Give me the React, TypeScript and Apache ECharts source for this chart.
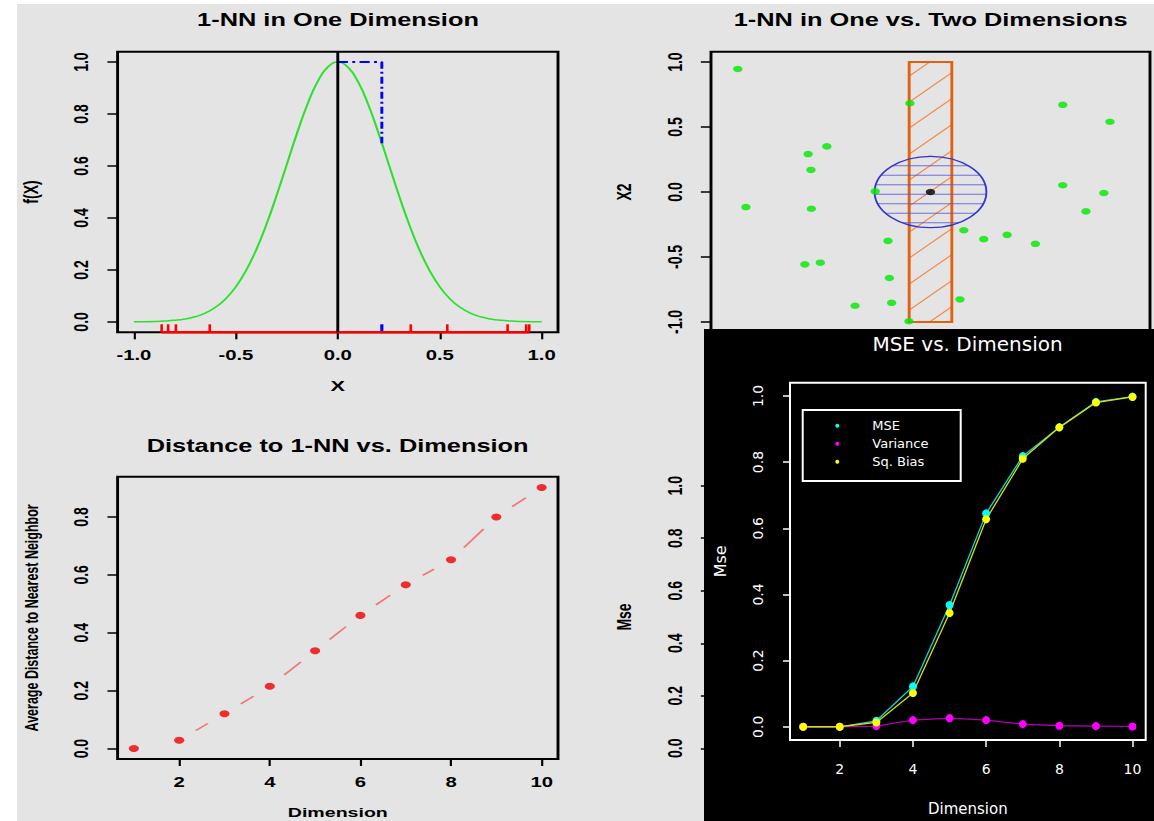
import React, { useEffect, useRef } from "react";
import * as echarts from "echarts";

// ---------------- Panel 1: 1-NN in One Dimension ----------------
const curveX = [-1, -0.95, -0.9, -0.85, -0.8, -0.75, -0.7, -0.65, -0.6, -0.55, -0.5, -0.45, -0.4, -0.35, -0.3, -0.25, -0.2, -0.15, -0.1, -0.05, 0, 0.05, 0.1, 0.15, 0.2, 0.25, 0.3, 0.35, 0.4, 0.45, 0.5, 0.55, 0.6, 0.65, 0.7, 0.75, 0.8, 0.85, 0.9, 0.95, 1];
const curveFx = [0.0003, 0.0007, 0.0015, 0.0031, 0.006, 0.0111, 0.0198, 0.034, 0.0561, 0.0889, 0.1353, 0.1979, 0.278, 0.3753, 0.4868, 0.6065, 0.7261, 0.8353, 0.9231, 0.9802, 1, 0.9802, 0.9231, 0.8353, 0.7261, 0.6065, 0.4868, 0.3753, 0.278, 0.1979, 0.1353, 0.0889, 0.0561, 0.034, 0.0198, 0.0111, 0.006, 0.0031, 0.0015, 0.0007, 0.0003];
const rugRed = [-0.864, -0.832, -0.794, -0.628, 0.358, 0.537, 0.833, 0.924, 0.939];
const rugBlue = [0.216];
const targetX = 0;
const targetFx = 1.0;
const nnX = 0.216;
const nnFx = 0.688;
const p1XTicks = [-1, -0.5, 0, 0.5, 1];
const unitTicks = [0, 0.2, 0.4, 0.6, 0.8, 1];

// ---------------- Panel 2: 1-NN in One vs. Two Dimensions ----------------
const pts2X = [-0.948, -0.101, 0.651, 0.883, -0.51, -0.602, -0.588, -0.272, 0.651, 0.853, -0.908, -0.586, 0.765, 0.164, 0.262, 0.377, 0.516, -0.209, -0.618, -0.542, -0.202, -0.371, -0.191, 0.145, -0.106];
const pts2Y = [0.947, 0.683, 0.671, 0.541, 0.351, 0.292, 0.17, 0.005, 0.052, -0.008, -0.116, -0.129, -0.149, -0.294, -0.363, -0.33, -0.399, -0.376, -0.557, -0.544, -0.662, -0.876, -0.853, -0.827, -0.995];
const target2 = [0, 0];
const nnBoxX = [-0.105, 0.105];
const nnBoxY = [-1, 1];
const ballRadius = 0.275;
const p2Ticks = [-1, -0.5, 0, 0.5, 1];

// ---------------- Panel 3: Distance to 1-NN vs. Dimension ----------------
const dims = [1, 2, 3, 4, 5, 6, 7, 8, 9, 10];
const avgDist = [0.0, 0.029, 0.12, 0.215, 0.338, 0.46, 0.566, 0.652, 0.8, 0.902];
const distTicks = [0, 0.2, 0.4, 0.6, 0.8];
const dimTicks = [2, 4, 6, 8, 10];

// ---------------- Panel 4: MSE vs. Dimension ----------------
const mse = [0.0, 0.0, 0.018, 0.122, 0.368, 0.645, 0.818, 0.905, 0.982, 0.998];
const variance = [0.0, 0.0, 0.002, 0.02, 0.026, 0.02, 0.008, 0.003, 0.002, 0.001];
const sqBias = [0.0, 0.0, 0.013, 0.102, 0.344, 0.627, 0.81, 0.905, 0.98, 0.997];

// The light panels are drawn narrow and stretched horizontally, like the reference.
const A_W = 796;
const S = 1154 / A_W;
const ux = (t: number) => t / S;

const Y1MIN = -0.04;

const lightLabel = { color: "#000", fontFamily: "Liberation Sans", fontWeight: "bold", fontSize: 14 };
const lightTick = { show: true, length: 7, lineStyle: { color: "#000", width: 1.5 } };
const noLine = { show: false, onZero: false };
const f1 = (v: number) => v.toFixed(1);

function renderRug(color: string, width: number) {
  return (params: any, api: any) => {
    const p = api.coord([api.value(0), Y1MIN]);
    return {
      type: "line",
      shape: { x1: p[0], y1: p[1], x2: p[0], y2: p[1] - 8 },
      style: { stroke: color, lineWidth: width },
    };
  };
}

function renderNNBox(params: any, api: any) {
  const tl = api.coord([api.value(0), api.value(3)]);
  const br = api.coord([api.value(2), api.value(1)]);
  const x = tl[0], y = tl[1], w = br[0] - tl[0], h = br[1] - tl[1];
  const children: any[] = [];
  const sp = 26;
  for (let yl = y + 14; yl < y + h + w; yl += sp) {
    const tmin = Math.max(0, (yl - (y + h)) / w);
    const tmax = Math.min(1, (yl - y) / w);
    if (tmax > tmin) {
      children.push({
        type: "line",
        shape: { x1: x + tmin * w, y1: yl - tmin * w, x2: x + tmax * w, y2: yl - tmax * w },
        style: { stroke: "#ee8a50", lineWidth: 1 },
      });
    }
  }
  children.push({ type: "rect", shape: { x, y, width: w, height: h }, style: { fill: "none", stroke: "#e2600e", lineWidth: 2 } });
  return { type: "group", children };
}

function renderBall(params: any, api: any) {
  const cx = api.value(0), cy = api.value(1), r = api.value(2);
  const c = api.coord([cx, cy]);
  const px = api.coord([cx + r, cy]);
  const py = api.coord([cx, cy + r]);
  const rx = px[0] - c[0];
  const ry = c[1] - py[1];
  const children: any[] = [];
  const sp = 9.5;
  for (let k = -10; k <= 10; k++) {
    const dy = 2.3 + k * sp;
    if (Math.abs(dy) >= ry) continue;
    const half = rx * Math.sqrt(1 - (dy / ry) * (dy / ry));
    children.push({
      type: "line",
      shape: { x1: c[0] - half, y1: c[1] + dy, x2: c[0] + half, y2: c[1] + dy },
      style: { stroke: "#5a5ae0", lineWidth: 1, opacity: 0.85 },
    });
  }
  children.push({ type: "ellipse", shape: { cx: c[0], cy: c[1], rx, ry }, style: { fill: "none", stroke: "#3535c8", lineWidth: 1.3 } });
  return { type: "group", children };
}

function renderGapSegment(params: any, api: any) {
  const a = api.coord([api.value(0), api.value(1)]);
  const b = api.coord([api.value(2), api.value(3)]);
  const dx = b[0] - a[0], dy = b[1] - a[1];
  const len = Math.sqrt(dx * dx + dy * dy);
  const gap = 15;
  if (len < 2 * gap + 3) return { type: "group", children: [] };
  const ux2 = dx / len, uy2 = dy / len;
  return {
    type: "line",
    shape: { x1: a[0] + ux2 * gap, y1: a[1] + uy2 * gap, x2: b[0] - ux2 * gap, y2: b[1] - uy2 * gap },
    style: { stroke: "#f07878", lineWidth: 1.5 },
  };
}

function optionA(): any {
  const gridW = ux(558) - ux(117.6);
  const grid2W = ux(1150) - ux(711);
  const boxStyle = { show: true, borderColor: "#000", borderWidth: 2, backgroundColor: "transparent" };
  const nameStyle = (size: number) => ({ color: "#000", fontFamily: "Liberation Sans", fontWeight: "bold", fontSize: size });
  return {
    animation: false,
    textStyle: { fontFamily: "Liberation Sans" },
    grid: [
      { left: ux(117.6), top: 51.7, width: gridW, height: 280.6, ...boxStyle },
      { left: ux(711), top: 51.7, width: grid2W, height: 280.6, ...boxStyle },
      { left: ux(117.6), top: 476.7, width: gridW, height: 282.6, ...boxStyle },
      { left: ux(711), top: 475.2, width: grid2W, height: 283.6, show: false },
    ],
    xAxis: [
      {
        type: "value", gridIndex: 0, min: -1.08, max: 1.08,
        axisLine: noLine, splitLine: { show: false },
        axisTick: { ...lightTick, customValues: p1XTicks },
        axisLabel: { ...lightLabel, customValues: p1XTicks, formatter: f1, margin: 16 },
        name: "X", nameLocation: "middle", nameGap: 46, nameTextStyle: nameStyle(15),
      },
      { type: "value", gridIndex: 1, min: -1.08, max: 1.08, show: false, axisLine: noLine },
      {
        type: "value", gridIndex: 2, min: 0.64, max: 10.36,
        axisLine: noLine, splitLine: { show: false },
        axisTick: { ...lightTick, customValues: dimTicks },
        axisLabel: { ...lightLabel, customValues: dimTicks, formatter: (v: number) => String(v), margin: 16 },
        name: "Dimension", nameLocation: "middle", nameGap: 47, nameTextStyle: nameStyle(13.5),
      },
      { type: "value", gridIndex: 3, min: 0.64, max: 10.36, show: false, axisLine: noLine },
    ],
    yAxis: [
      {
        type: "value", gridIndex: 0, min: -0.04, max: 1.04,
        axisLine: noLine, splitLine: { show: false },
        axisTick: { ...lightTick, customValues: unitTicks },
        axisLabel: { ...lightLabel, customValues: unitTicks, formatter: f1, rotate: 90, margin: 18 },
        name: "f(X)", nameLocation: "middle", nameGap: 53, nameTextStyle: nameStyle(14),
      },
      {
        type: "value", gridIndex: 1, min: -1.08, max: 1.08,
        axisLine: noLine, splitLine: { show: false },
        axisTick: { ...lightTick, customValues: p2Ticks },
        axisLabel: { ...lightLabel, customValues: p2Ticks, formatter: f1, rotate: 90, margin: 18 },
        name: "X2", nameLocation: "middle", nameGap: 53, nameTextStyle: nameStyle(14),
      },
      {
        type: "value", gridIndex: 2, min: -0.036, max: 0.939,
        axisLine: noLine, splitLine: { show: false },
        axisTick: { ...lightTick, customValues: distTicks },
        axisLabel: { ...lightLabel, customValues: distTicks, formatter: f1, rotate: 90, margin: 18 },
        name: "Average Distance to Nearest Neighbor", nameLocation: "middle", nameGap: 53, nameTextStyle: nameStyle(12.5),
      },
      {
        type: "value", gridIndex: 3, min: -0.04, max: 1.04,
        axisLine: noLine, splitLine: { show: false },
        axisTick: { ...lightTick, customValues: unitTicks },
        axisLabel: { ...lightLabel, customValues: unitTicks, formatter: f1, rotate: 90, margin: 18 },
        name: "Mse", nameLocation: "middle", nameGap: 53, nameTextStyle: nameStyle(14),
      },
    ],
    graphic: [
      { type: "text", x: ux(338), y: 20, style: { text: "1-NN in One Dimension", fill: "#000", fontFamily: "Liberation Sans", fontWeight: "bold", fontSize: 17.5, align: "center", verticalAlign: "middle" } },
      { type: "text", x: ux(930.7), y: 20, style: { text: "1-NN in One vs. Two Dimensions", fill: "#000", fontFamily: "Liberation Sans", fontWeight: "bold", fontSize: 17.5, align: "center", verticalAlign: "middle" } },
      { type: "text", x: ux(337.6), y: 446, style: { text: "Distance to 1-NN vs. Dimension", fill: "#000", fontFamily: "Liberation Sans", fontWeight: "bold", fontSize: 17.5, align: "center", verticalAlign: "middle" } },
    ],
    series: [
      {
        name: "f(X)", type: "line", xAxisIndex: 0, yAxisIndex: 0,
        data: curveX.map((x, i) => [x, curveFx[i]]),
        symbol: "none", smooth: true, clip: false,
        lineStyle: { color: "#2ee02e", width: 1.5 },
        markLine: {
          silent: true, symbol: ["none", "none"], label: { show: false },
          lineStyle: { color: "#000", width: 2, type: "solid" },
          data: [{ xAxis: targetX }],
        },
      },
      {
        name: "1-NN", type: "line", xAxisIndex: 0, yAxisIndex: 0,
        data: [[targetX, targetFx], [nnX, targetFx], [nnX, nnFx]],
        symbol: "none", clip: false,
        lineStyle: { color: "#0000ff", width: 2, type: [7, 3, 2, 3] },
      },
      {
        name: "rug line", type: "line", xAxisIndex: 0, yAxisIndex: 0,
        data: [[Math.min(...rugRed), Y1MIN], [Math.max(...rugRed), Y1MIN]],
        symbol: "none", clip: false,
        lineStyle: { color: "#ff0000", width: 2.5 },
      },
      {
        name: "rug", type: "custom", xAxisIndex: 0, yAxisIndex: 0,
        data: rugRed.map((x) => [x, Y1MIN]), renderItem: renderRug("#ff0000", 1.8),
      },
      {
        name: "rug nn", type: "custom", xAxisIndex: 0, yAxisIndex: 0,
        data: rugBlue.map((x) => [x, Y1MIN]), renderItem: renderRug("#0000ff", 2.2),
      },
      {
        name: "1D neighbourhood", type: "custom", xAxisIndex: 1, yAxisIndex: 1,
        data: [[nnBoxX[0], nnBoxY[0], nnBoxX[1], nnBoxY[1]]], renderItem: renderNNBox,
      },
      {
        name: "2D neighbourhood", type: "custom", xAxisIndex: 1, yAxisIndex: 1,
        data: [[target2[0], target2[1], ballRadius]], renderItem: renderBall,
      },
      {
        name: "points", type: "scatter", xAxisIndex: 1, yAxisIndex: 1,
        data: pts2X.map((x, i) => [x, pts2Y[i]]),
        symbolSize: 6.5, itemStyle: { color: "#00e800" },
      },
      {
        name: "target", type: "scatter", xAxisIndex: 1, yAxisIndex: 1,
        data: [target2], symbolSize: 6.5, itemStyle: { color: "#000" },
      },
      {
        name: "dist line", type: "custom", xAxisIndex: 2, yAxisIndex: 2,
        data: dims.slice(0, -1).map((d, i) => [d, avgDist[i], dims[i + 1], avgDist[i + 1]]),
        renderItem: renderGapSegment,
      },
      {
        name: "dist", type: "scatter", xAxisIndex: 2, yAxisIndex: 2,
        data: dims.map((d, i) => [d, avgDist[i]]),
        symbolSize: 7, itemStyle: { color: "#ee0000" },
      },
    ],
  };
}

function optionB(): any {
  const whiteLabel = { color: "#fff", fontFamily: "DejaVu Sans", fontSize: 14 };
  const whiteTick = { show: true, length: 7, lineStyle: { color: "#fff", width: 1.5 } };
  const mk = (name: string, data: number[], color: string, lineColor: string) => ({
    name, type: "line", data: dims.map((d, i) => [d, data[i]]),
    symbol: "circle", symbolSize: 8, clip: false,
    itemStyle: { color }, lineStyle: { color: lineColor, width: 1.3 },
  });
  return {
    animation: false,
    textStyle: { fontFamily: "DejaVu Sans" },
    grid: { left: 85.3, top: 53.7, width: 356.4, height: 359.6, show: true, borderColor: "#fff", borderWidth: 2, backgroundColor: "transparent" },
    xAxis: {
      type: "value", min: 0.64, max: 10.36,
      axisLine: noLine, splitLine: { show: false },
      axisTick: { ...whiteTick, customValues: dimTicks },
      axisLabel: { ...whiteLabel, customValues: dimTicks, formatter: (v: number) => String(v), margin: 22 },
      name: "Dimension", nameLocation: "middle", nameGap: 61, nameTextStyle: { color: "#fff", fontFamily: "DejaVu Sans", fontSize: 15 },
    },
    yAxis: {
      type: "value", min: -0.04, max: 1.04,
      axisLine: noLine, splitLine: { show: false },
      axisTick: { ...whiteTick, customValues: unitTicks },
      axisLabel: { ...whiteLabel, customValues: unitTicks, formatter: f1, rotate: 90, margin: 25 },
      name: "Mse", nameLocation: "middle", nameGap: 62, nameTextStyle: { color: "#fff", fontFamily: "DejaVu Sans", fontSize: 16 },
    },
    legend: {
      data: ["MSE", "Variance", "Sq. Bias"], orient: "vertical", left: 131.3, top: 88.7, padding: 0,
      itemGap: 2, itemWidth: 4, itemHeight: 4, icon: "circle", selectedMode: false,
      textStyle: { color: "#fff", fontFamily: "DejaVu Sans", fontSize: 13, lineHeight: 16, padding: [0, 0, 0, 28] },
    },
    graphic: [
      { type: "text", x: 263.5, y: 14.5, style: { text: "MSE vs. Dimension", fill: "#fff", fontFamily: "DejaVu Sans", fontSize: 20, align: "center", verticalAlign: "middle" } },
      { type: "rect", shape: { x: 98.7, y: 81, width: 158, height: 71 }, style: { fill: "none", stroke: "#fff", lineWidth: 2 } },
    ],
    series: [
      mk("MSE", mse, "#00ffff", "#00dddd"),
      mk("Variance", variance, "#ff00ff", "#b000b0"),
      mk("Sq. Bias", sqBias, "#ffff00", "#e0e000"),
    ],
  };
}

export default function App() {
  const refA = useRef<HTMLDivElement>(null);
  const refB = useRef<HTMLDivElement>(null);
  useEffect(() => {
    const a = echarts.init(refA.current as HTMLDivElement, null, { renderer: "svg" });
    a.setOption(optionA());
    const b = echarts.init(refB.current as HTMLDivElement, null, { renderer: "svg" });
    b.setOption(optionB());
    return () => {
      a.dispose();
      b.dispose();
    };
  }, []);
  return (
    <div style={{ position: "absolute", left: 0, top: 0, width: 1154, height: 821, background: "#fff", overflow: "hidden" }}>
      <div style={{ position: "absolute", left: 17, top: 3.5, width: 1137, height: 817.5, background: "#e4e4e4" }} />
      <div ref={refA} style={{ position: "absolute", left: 0, top: 0, width: A_W, height: 821, transform: `scaleX(${S})`, transformOrigin: "0 0" }} />
      <div ref={refB} style={{ position: "absolute", left: 704, top: 329, width: 450, height: 492, background: "#000" }} />
    </div>
  );
}
